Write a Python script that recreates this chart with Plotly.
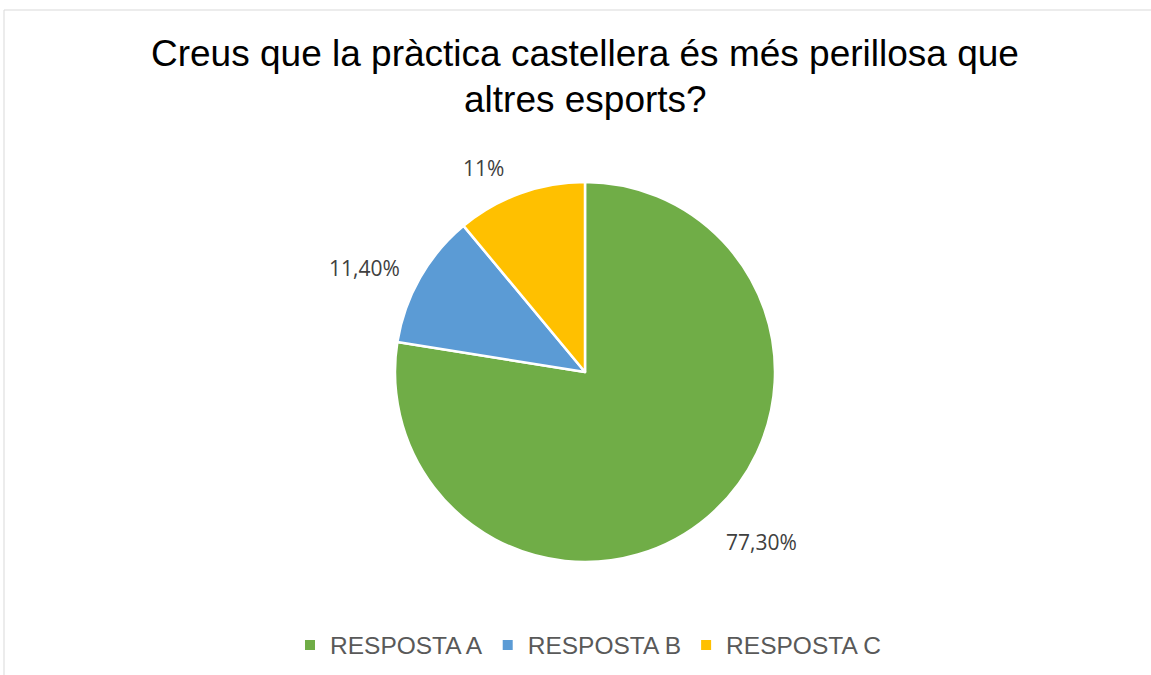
import plotly.graph_objects as go

categories = ["RESPOSTA A", "RESPOSTA B", "RESPOSTA C"]
values = [77.3, 11.4, 11.0]
value_labels = ["77,30%", "11,40%", "11%"]
colors = ["#70AD47", "#5B9BD5", "#FFC000"]
title_lines = ["Creus que la pràctica castellera és més perillosa que", "altres esports?"]

W, H = 1151, 675
OFF = 0  # page body margin removed by post_script

def px(x, y):
    return (x - OFF) / W, 1 - (y - OFF) / H

cx, cy, r = 585, 372, 190
x0, y0 = px(cx - r, cy + r)
x1, y1 = px(cx + r, cy - r)

fig = go.Figure(go.Pie(
    labels=categories,
    values=values,
    sort=False,
    direction="clockwise",
    rotation=0,
    marker=dict(colors=colors, line=dict(color="white", width=2.5)),
    textinfo="none",
    hoverinfo="label+percent",
    domain=dict(x=[x0, x1], y=[y0, y1]),
))

annotations = []
for text, yy in zip(title_lines, [54, 99]):
    ax, ay = px(585, yy)
    annotations.append(dict(x=ax, y=ay, xref="paper", yref="paper", text=text,
                            showarrow=False, xanchor="center", yanchor="middle",
                            font=dict(family="Liberation Sans, Arial", size=37, color="#000000")))

label_pos = [(761, 542), (364, 268), (483, 168)]
for text, (lx, ly) in zip(value_labels, label_pos):
    ax, ay = px(lx, ly)
    annotations.append(dict(x=ax, y=ay, xref="paper", yref="paper", text=text,
                            showarrow=False, xanchor="center", yanchor="middle",
                            font=dict(family="Open Sans, Noto Sans, sans-serif", size=21, color="#404040")))

bx0, by1 = px(4, 10)
fig.update_layout(
    width=W, height=H,
    margin=dict(l=0, r=0, t=0, b=0),
    paper_bgcolor="white",
    plot_bgcolor="white",
    showlegend=True,
    legend=dict(orientation="h", x=px(588, 0)[0], xanchor="center", y=px(0, 645)[1], yanchor="middle",
                font=dict(family="Liberation Sans, Arial", size=24.5, color="#595959"),
                itemsizing="constant", itemwidth=30, traceorder="normal"),
    annotations=annotations,
    shapes=[dict(type="rect", xref="paper", yref="paper", x0=bx0, y0=-0.05, x1=1.05, y1=by1,
                 line=dict(color="#D9D9D9", width=1), fillcolor="rgba(0,0,0,0)")],
)

fig.write_html("out.html",
               config={"displayModeBar": False},
               post_script="document.body.style.margin='0';document.body.style.overflow='hidden';")
